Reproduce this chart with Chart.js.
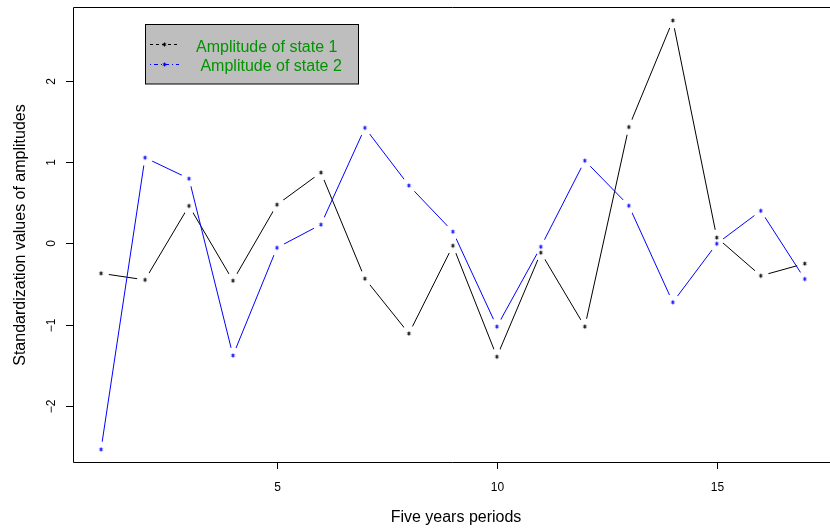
<!DOCTYPE html>
<html>
<head>
<meta charset="utf-8">
<script src="https://cdn.jsdelivr.net/npm/chart.js@4/dist/chart.umd.min.js"></script>
<style>
html, body { margin: 0; padding: 0; background: #fff; }
canvas { display: block; }
</style>
</head>
<body>
<canvas id="myChart" width="830" height="529"></canvas>
<script>
var periods = [1, 2, 3, 4, 5, 6, 7, 8, 9, 10, 11, 12, 13, 14, 15, 16, 17];
var state1 = [-0.37, -0.45, 0.46, -0.46, 0.475, 0.87, -0.435, -1.11, -0.03, -1.395, -0.115, -1.025, 1.43, 2.74, 0.07, -0.40, -0.25];
var state2 = [-2.535, 1.053, 0.795, -1.38, -0.055, 0.23, 1.42, 0.71, 0.143, -1.025, -0.043, 1.016, 0.462, -0.726, -0.005, 0.40, -0.44];
var xTicks = [5, 10, 15];
var yTicks = [-2, -1, 0, 1, 2];
var xTitle = 'Five years periods';
var yTitle = 'Standardization values of amplitudes';
var legendLabels = ['Amplitude of state 1', ' Amplitude of state 2'];

var FONT = '"Liberation Sans", Arial, Helvetica, sans-serif';
var GAP = 8; // R type="b" leaves a gap around every point

function toXY(vals) {
  return periods.map(function (p, i) { return { x: p, y: vals[i] }; });
}

// small asterisk used as the point symbol (pch="*")
function starImage(color) {
  var c = document.createElement('canvas');
  c.width = 7; c.height = 7;
  var g = c.getContext('2d');
  g.strokeStyle = color;
  g.lineWidth = 1;
  g.beginPath();
  for (var k = 0; k < 3; k++) {
    var a = Math.PI / 2 + k * Math.PI / 3;
    g.moveTo(3.5 + 2 * Math.cos(a), 3.5 + 2 * Math.sin(a));
    g.lineTo(3.5 - 2 * Math.cos(a), 3.5 - 2 * Math.sin(a));
  }
  g.stroke();
  return c;
}
var starBlack = starImage('#000000');
var starBlue = starImage('#0000ff');

// clip holes out of each gapped line around its own points
var gapPlugin = {
  id: 'gaps',
  beforeDatasetsDraw: function (chart) {
    chart.data.datasets.forEach(function (ds, i) {
      if (!ds.gapped) return;
      var meta = chart.getDatasetMeta(i);
      var line = meta.dataset;
      if (!line || line._gapWrapped) return;
      var orig = line.draw;
      line.draw = function (ctx, area, start, count) {
        ctx.save();
        ctx.beginPath();
        ctx.rect(0, 0, chart.width, chart.height);
        meta.data.forEach(function (pt) {
          ctx.moveTo(pt.x + GAP, pt.y);
          ctx.arc(pt.x, pt.y, GAP, 0, Math.PI * 2, true);
          ctx.closePath();
        });
        ctx.clip('evenodd');
        orig.call(this, ctx, area, start, count);
        ctx.restore();
      };
      line._gapWrapped = true;
    });
  }
};

// R style frame, ticks, labels and legend
var framePlugin = {
  id: 'frame',
  afterDraw: function (chart) {
    var ctx = chart.ctx;
    var a = chart.chartArea;
    var xs = chart.scales.x, ys = chart.scales.y;
    ctx.save();
    ctx.strokeStyle = '#000';
    ctx.lineWidth = 1;
    ctx.beginPath();
    ctx.moveTo(chart.width + 1, a.top + 0.5);
    ctx.lineTo(a.left + 0.5, a.top + 0.5);
    ctx.lineTo(a.left + 0.5, a.bottom + 0.5);
    ctx.lineTo(chart.width + 1, a.bottom + 0.5);
    ctx.stroke();

    ctx.fillStyle = '#000';
    ctx.font = '12px ' + FONT;
    ctx.textAlign = 'center';
    ctx.textBaseline = 'alphabetic';
    xTicks.forEach(function (t) {
      var px = Math.round(xs.getPixelForValue(t)) + 0.5;
      ctx.beginPath();
      ctx.moveTo(px, a.bottom);
      ctx.lineTo(px, a.bottom + 7);
      ctx.stroke();
      ctx.fillText(String(t), px, 491);
    });
    yTicks.forEach(function (t) {
      var py = Math.round(ys.getPixelForValue(t)) + 0.5;
      ctx.beginPath();
      ctx.moveTo(a.left - 7, py);
      ctx.lineTo(a.left, py);
      ctx.stroke();
      ctx.save();
      ctx.translate(55, py);
      ctx.rotate(-Math.PI / 2);
      ctx.fillText(String(t).replace('-', '\u2212'), 0, 0);
      ctx.restore();
    });

    ctx.font = '16px ' + FONT;
    ctx.fillText(xTitle, 456, 521.5);
    ctx.save();
    ctx.translate(24.5, 235);
    ctx.rotate(-Math.PI / 2);
    ctx.fillText(yTitle, 0, 0);
    ctx.restore();

    // legend box
    ctx.fillStyle = '#bebebe';
    ctx.fillRect(146, 24, 212, 60);
    ctx.strokeRect(145.5, 24.5, 213, 59.5);
    var rows = [
      { y: 44.5, color: '#000000', dash: [3, 3], star: starBlack, tx: 196, ty: 51.5 },
      { y: 64.5, color: '#0000ff', dash: [1, 3, 4, 3], star: starBlue, tx: 196, ty: 70.5 }
    ];
    rows.forEach(function (r, i) {
      ctx.strokeStyle = r.color;
      ctx.setLineDash(r.dash);
      ctx.beginPath();
      ctx.moveTo(150, r.y);
      ctx.lineTo(179, r.y);
      ctx.stroke();
      ctx.setLineDash([]);
      ctx.drawImage(r.star, 164.5 - 3.5, r.y - 3.5);
      ctx.fillStyle = '#009400';
      ctx.textAlign = 'left';
      ctx.fillText(legendLabels[i], r.tx, r.ty);
    });
    ctx.restore();
  }
};

new Chart(document.getElementById('myChart'), {
  type: 'line',
  data: {
    datasets: [
      { label: 'state1 line', data: toXY(state1), borderColor: '#000000', borderWidth: 1, pointRadius: 0, tension: 0, fill: false, gapped: true, order: 3 },
      { label: 'state2 line', data: toXY(state2), borderColor: '#0000ff', borderWidth: 1, pointRadius: 0, tension: 0, fill: false, gapped: true, order: 2 },
      { label: 'state1 points', data: toXY(state1), showLine: false, pointStyle: starBlack, pointRadius: 3, order: 1 },
      { label: 'state2 points', data: toXY(state2), showLine: false, pointStyle: starBlue, pointRadius: 3, order: 0 }
    ]
  },
  options: {
    responsive: false,
    animation: false,
    devicePixelRatio: 1,
    layout: { padding: { left: 73, top: 7, right: 0, bottom: 67 } },
    scales: {
      x: { type: 'linear', min: 0.363, max: 17.46, display: false },
      y: { type: 'linear', min: -2.69, max: 2.906, display: false }
    },
    plugins: {
      legend: { display: false },
      tooltip: { enabled: false }
    }
  },
  plugins: [gapPlugin, framePlugin]
});
</script>
</body>
</html>
